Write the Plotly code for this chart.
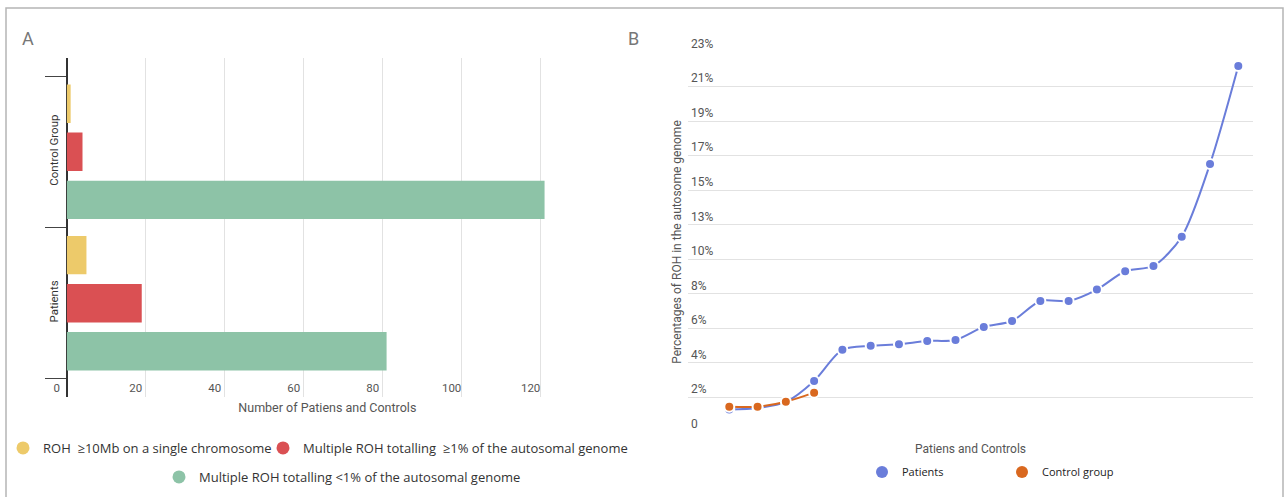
import plotly.graph_objects as go

# ---------------- data ----------------
# Panel A: counts of subjects per ROH category
groups = ["Patients", "Control Group"]
roh_single_chrom = [5, 1]        # ROH >=10Mb on a single chromosome
roh_multi_ge1 = [19, 4]          # multiple ROH totalling >=1% of the autosomal genome
roh_multi_lt1 = [81, 121]        # multiple ROH totalling <1% of the autosomal genome

cat_names = [
    "ROH\u00a0 ≥10Mb on a single chromosome",
    "Multiple ROH totalling\u00a0 ≥1% of the autosomal genome",
    "Multiple ROH totalling &lt;1% of the autosomal genome",
]

# Panel B: percentage of the autosome genome in ROH, sorted
patients_pct = [1.36, 1.45, 1.82, 3.09, 4.98, 5.22, 5.31, 5.51, 5.57, 6.36,
                6.72, 7.93, 7.93, 8.62, 9.73, 10.05, 11.82, 16.22, 22.15]
controls_pct = [1.53, 1.53, 1.83, 2.38]

pct_tick_text = ["0", "2%", "4%", "6%", "8%", "10%", "13%", "15%", "17%", "19%", "21%", "23%"]
PCT_AXIS_MAX = 23

# ---------------- styling ----------------
W, H = 1288, 497
YELLOW, RED, GREEN = "#EDCA6A", "#DA5053", "#8DC3A7"
BLUE, ORANGE = "#6A7DDA", "#D9681F"
GRID = "#E2E2E2"
FONT = "Roboto"
LEG_FONT = "Open Sans"


def px(x):
    return x / W


def py(y):
    return 1 - y / H


fig = go.Figure()

# ---- Panel A: grouped horizontal bars (bottom-to-top: green, red, yellow)
for vals, col in [(roh_multi_lt1, GREEN), (roh_multi_ge1, RED), (roh_single_chrom, YELLOW)]:
    fig.add_trace(go.Bar(
        y=groups, x=vals, orientation="h", marker=dict(color=col, line=dict(width=0)),
        xaxis="x", yaxis="y", showlegend=False, hoverinfo="x+y",
    ))

# legend entries for panel A (circle symbols)
for name, col, leg in [(cat_names[0], YELLOW, "legend"),
                       (cat_names[1], RED, "legend3"),
                       (cat_names[2], GREEN, "legend4")]:
    fig.add_trace(go.Scatter(
        x=[None], y=[None], mode="markers", name=name, legend=leg,
        marker=dict(color=col, size=13, symbol="circle"),
        xaxis="x", yaxis="y",
    ))

# ---- Panel B: smoothed lines with markers
pat_x = list(range(len(patients_pct)))
ctl_x = list(range(len(controls_pct)))
fig.add_trace(go.Scatter(
    x=pat_x, y=patients_pct, mode="lines+markers", name="Patients",
    line=dict(color=BLUE, width=2, shape="spline", smoothing=0.8),
    marker=dict(color=BLUE, size=10, line=dict(color="white", width=2)),
    xaxis="x2", yaxis="y2", showlegend=False,
))
fig.add_trace(go.Scatter(
    x=ctl_x, y=controls_pct, mode="lines+markers", name="Control group",
    line=dict(color=ORANGE, width=2, shape="spline", smoothing=0.8),
    marker=dict(color=ORANGE, size=10, line=dict(color="white", width=2)),
    xaxis="x2", yaxis="y2", showlegend=False,
))
for name, col, leg in [("Patients", BLUE, "legend2"), ("Control group", ORANGE, "legend5")]:
    fig.add_trace(go.Scatter(
        x=[None], y=[None], mode="markers", name=name, legend=leg,
        marker=dict(color=col, size=12, symbol="circle"),
        xaxis="x2", yaxis="y2",
    ))

leg_common = dict(orientation="h", xanchor="left", yanchor="middle",
                  bgcolor="rgba(0,0,0,0)", borderwidth=0, itemsizing="trace",
                  itemwidth=30)

fig.update_layout(
    width=W, height=H,
    margin=dict(l=0, r=0, t=0, b=0, autoexpand=False),
    paper_bgcolor="white", plot_bgcolor="white",
    font=dict(family=FONT, color="#444", size=12),
    barmode="group", bargap=0.048, bargroupgap=0.2,
    xaxis=dict(
        domain=[px(66.7), px(588)], range=[0, 132], automargin=False,
        tickvals=[0, 20, 40, 60, 80, 100, 120],
        showgrid=True, gridcolor=GRID, gridwidth=1,
        zeroline=True, zerolinecolor="#333", zerolinewidth=1.5,
        ticks="", ticklabelposition="inside", ticklabeloverflow="allow",
        ticklabelshift=-10,
        tickfont=dict(size=11.5, color="#555"),
        title=dict(text="Number of Patiens and Controls", standoff=9,
                   font=dict(size=12.5, color="#555")),
        fixedrange=True,
    ),
    yaxis=dict(
        domain=[py(397), py(58)], range=[-0.62, 1.62], type="category", automargin=False,
        categoryorder="array", categoryarray=groups,
        showgrid=False, zeroline=False, showline=False,
        ticks="outside", tickson="boundaries", ticklen=21, tickwidth=1, tickcolor="#444",
        tickangle=-90, ticklabelstandoff=5,
        tickfont=dict(size=11.5, color="#333"),
        fixedrange=True,
    ),
    xaxis2=dict(
        domain=[px(688), px(1253)], range=[-1.46, 18.52], automargin=False,
        showgrid=False, zeroline=False, showticklabels=False, ticks="",
        title=dict(text="Patiens and Controls", standoff=12,
                   font=dict(size=12, color="#555")),
        anchor="y2", fixedrange=True,
    ),
    yaxis2=dict(
        domain=[py(432), py(52)], range=[0, PCT_AXIS_MAX], automargin=False,
        tickvals=[k * PCT_AXIS_MAX / (len(pct_tick_text) - 1) for k in range(len(pct_tick_text))],
        ticktext=pct_tick_text,
        showgrid=True, gridcolor=GRID, gridwidth=1, zeroline=False,
        ticks="", ticklabelposition="inside top", ticklabeloverflow="allow",
        tickfont=dict(size=12, color="#555"),
        title=dict(text="Percentages of ROH in the autosome genome", standoff=6,
                   font=dict(size=12, color="#555")),
        anchor="x2", fixedrange=True,
    ),
    legend=dict(x=px(3), y=py(448), font=dict(family=LEG_FONT, size=13, color="#333"), **leg_common),
    legend3=dict(x=px(263), y=py(448), font=dict(family=LEG_FONT, size=13, color="#333"), **leg_common),
    legend4=dict(x=px(159), y=py(477), font=dict(family=LEG_FONT, size=13, color="#333"), **leg_common),
    legend2=dict(x=px(862), y=py(472), font=dict(family=LEG_FONT, size=11, color="#222"), **leg_common),
    legend5=dict(x=px(1002), y=py(472), font=dict(family=LEG_FONT, size=11, color="#222"), **leg_common),
    annotations=[
        dict(text="A", x=px(28), y=py(38), xref="paper", yref="paper", showarrow=False,
             font=dict(size=18, color="#777"), xanchor="center", yanchor="middle"),
        dict(text="B", x=px(633), y=py(39), xref="paper", yref="paper", showarrow=False,
             font=dict(size=18, color="#777"), xanchor="center", yanchor="middle"),
    ],
    shapes=[
        dict(type="rect", xref="paper", yref="paper",
             x0=px(6), x1=px(1283), y0=py(500), y1=py(8),
             line=dict(color="#B5B5B5", width=1.5), fillcolor="rgba(0,0,0,0)", layer="below"),
    ],
)

fig.write_html("out.html")
